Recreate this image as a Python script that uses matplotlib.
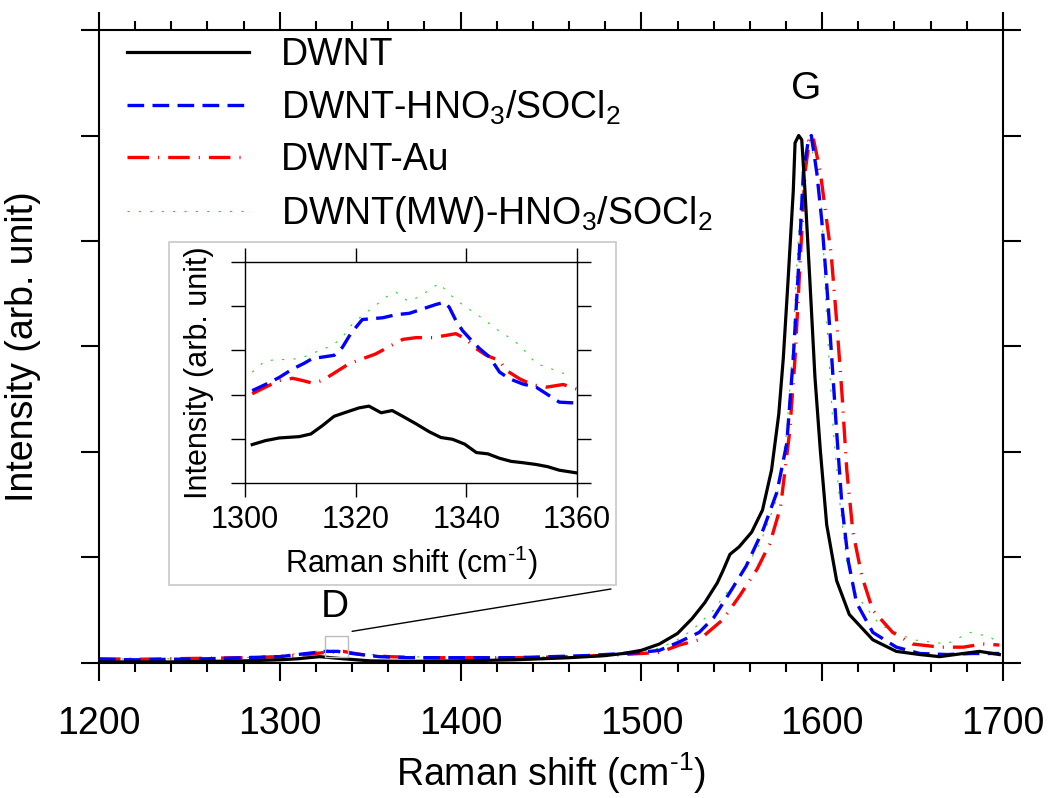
import matplotlib
matplotlib.use('Agg')
import matplotlib.pyplot as plt
from matplotlib.patches import Rectangle, ConnectionPatch

plt.rcParams['font.family'] = ['Liberation Sans', 'DejaVu Sans']
plt.rcParams['mathtext.fontset'] = 'custom'
plt.rcParams['mathtext.rm'] = 'Liberation Sans'
plt.rcParams['mathtext.it'] = 'Liberation Sans:italic'
plt.rcParams['lines.scale_dashes'] = False

# ---- main spectra (normalised, G peak = 5) ----
x_dwnt = [1200, 1220, 1240, 1260, 1280, 1300, 1310, 1322, 1335, 1350, 1370, 1400, 1430,
          1460, 1480, 1490, 1500, 1510, 1520, 1528, 1535, 1542, 1545, 1549, 1554, 1561,
          1567, 1572, 1576, 1578.5, 1581, 1584, 1585, 1587, 1588.7, 1590.5, 1593.3, 1596,
          1599, 1602.5, 1608, 1615, 1628, 1641, 1654, 1665, 1678, 1687, 1698]
y_dwnt = [0.01, 0.01, 0.01, 0.015, 0.02, 0.03, 0.04, 0.06, 0.04, 0.02, 0.015, 0.02, 0.03,
          0.05, 0.07, 0.09, 0.12, 0.18, 0.28, 0.42, 0.57, 0.76, 0.87, 1.03, 1.10, 1.24,
          1.45, 1.83, 2.36, 2.89, 3.59, 4.47, 4.93, 5.0, 4.96, 4.47, 3.59, 2.71,
          2.01, 1.31, 0.78, 0.46, 0.22, 0.11, 0.08, 0.06, 0.09, 0.11, 0.08]

x_hno3 = [1200, 1220, 1240, 1260, 1280, 1300, 1315, 1325, 1332, 1340, 1355, 1370, 1400,
          1430, 1450, 1470, 1490, 1500, 1510, 1521, 1532, 1540, 1549, 1558, 1567.5, 1575,
          1580.4, 1584, 1587, 1589.6, 1592.4, 1594, 1597, 1599.8, 1602.5, 1605.3, 1608,
          1611, 1614.5, 1619, 1628, 1641, 1654, 1669, 1683, 1698]
y_hno3 = [0.035, 0.03, 0.035, 0.04, 0.05, 0.06, 0.09, 0.11, 0.11, 0.09, 0.06, 0.05, 0.05,
          0.05, 0.06, 0.07, 0.09, 0.10, 0.12, 0.20, 0.29, 0.43, 0.67, 0.92, 1.27, 1.62,
          2.08, 2.89, 3.77, 4.65, 4.96, 5.0, 4.65, 4.19, 3.59, 2.89, 2.19,
          1.48, 0.96, 0.57, 0.29, 0.15, 0.09, 0.08, 0.09, 0.09]

x_au = [1200, 1220, 1240, 1260, 1280, 1300, 1315, 1325, 1335, 1345, 1360, 1380, 1400,
        1430, 1450, 1470, 1490, 1500, 1510, 1521, 1532, 1545, 1554.5, 1564, 1571, 1577,
        1582, 1585, 1587.7, 1590.5, 1593.3, 1595, 1599, 1602.5, 1605, 1608, 1611, 1613.6,
        1617, 1622, 1628, 1639, 1650, 1665, 1678, 1689, 1698]
y_au = [0.04, 0.035, 0.04, 0.045, 0.05, 0.06, 0.08, 0.10, 0.11, 0.08, 0.06, 0.05, 0.05,
        0.05, 0.055, 0.065, 0.08, 0.09, 0.10, 0.17, 0.22, 0.41, 0.64, 0.89, 1.13, 1.48,
        2.19, 2.89, 3.77, 4.65, 5.0, 4.98, 4.65, 4.19, 3.87, 3.24, 2.54, 1.83,
        1.24, 0.82, 0.50, 0.29, 0.18, 0.15, 0.15, 0.18, 0.17]

x_mw = [1200, 1220, 1240, 1260, 1280, 1300, 1315, 1325, 1332, 1340, 1355, 1370, 1400,
        1430, 1450, 1470, 1490, 1500, 1510, 1520, 1528.7, 1539.8, 1545, 1554.5, 1565.6,
        1574.8, 1580.4, 1584, 1586, 1587.7, 1590.5, 1592.4, 1596, 1599.8, 1602.5, 1606.2,
        1610, 1613.6, 1619, 1632, 1650, 1669, 1681.6, 1692.7, 1698]
y_mw = [0.04, 0.035, 0.04, 0.045, 0.05, 0.07, 0.10, 0.12, 0.12, 0.10, 0.07, 0.06, 0.05,
        0.05, 0.06, 0.07, 0.09, 0.11, 0.14, 0.22, 0.32, 0.50, 0.62, 0.82, 1.13,
        1.55, 2.19, 3.06, 3.77, 4.29, 4.82, 5.0, 4.75, 4.29, 3.24, 2.19,
        1.48, 0.96, 0.64, 0.36, 0.22, 0.18, 0.29, 0.25, 0.18]

# ---- inset: D band 1300-1360 ----
xi_dwnt = [1301.3, 1303.7, 1306.2, 1309.8, 1311.9, 1314, 1316.1, 1318.2, 1320.6, 1322.4,
           1324.6, 1326.6, 1328.5, 1330.9, 1333.3, 1335.4, 1337.5, 1339.7, 1341.8, 1343.9,
           1346, 1348.1, 1350.2, 1352.6, 1354.7, 1356.8, 1359.9]
yi_dwnt = [0.87, 0.96, 1.02, 1.05, 1.11, 1.30, 1.51, 1.60, 1.70, 1.74,
           1.59, 1.64, 1.51, 1.34, 1.16, 1.03, 0.99, 0.88, 0.69, 0.66,
           0.56, 0.49, 0.46, 0.42, 0.37, 0.29, 0.23]

xi_hno3 = [1301.3, 1303.7, 1306.2, 1308.6, 1310.7, 1312.2, 1314, 1316.1, 1317.6, 1319.1,
           1321.2, 1324.9, 1327.3, 1329.7, 1332.1, 1334.5, 1336, 1336.9, 1338.1, 1339.3,
           1340.9, 1342.4, 1344.2, 1346, 1347.8, 1350.2, 1352.6, 1354.7, 1356.8, 1359.9]
yi_hno3 = [2.09, 2.23, 2.39, 2.58, 2.71, 2.82, 2.85, 2.89, 3.07, 3.38,
           3.70, 3.74, 3.81, 3.84, 3.94, 4.04, 4.09, 3.98, 3.68, 3.45,
           3.23, 3.04, 2.85, 2.51, 2.36, 2.24, 2.17, 2.00, 1.83, 1.81]

xi_au = [1301.3, 1303.7, 1306.2, 1308.6, 1310.4, 1312.2, 1314, 1316.4, 1318.8, 1321.2,
         1323.6, 1326.1, 1328.5, 1330.9, 1333.9, 1336.3, 1338.1, 1339.9, 1341.8, 1343.6,
         1346, 1347.2, 1349.6, 1352, 1354.5, 1357.5, 1359.9]
yi_au = [2.02, 2.17, 2.32, 2.37, 2.32, 2.26, 2.32, 2.51, 2.70, 2.81,
         2.92, 3.09, 3.25, 3.29, 3.29, 3.34, 3.38, 3.26, 3.04, 2.89,
         2.77, 2.55, 2.36, 2.22, 2.17, 2.23, 2.13]

xi_mw = [1301.3, 1303.7, 1306.2, 1309.2, 1311.6, 1313.4, 1315.8, 1317.6, 1319.4, 1321.2,
         1323.6, 1325.5, 1327.3, 1329.4, 1331.5, 1333.3, 1335.1, 1336.9, 1338.7, 1340.9,
         1343, 1345.1, 1347.2, 1349.3, 1351.1, 1352.6, 1354.7, 1356.8, 1358.9]
yi_mw = [2.51, 2.77, 2.79, 2.81, 2.89, 3.00, 3.11, 3.30, 3.60, 3.79,
         4.02, 4.21, 4.32, 4.12, 4.21, 4.37, 4.52, 4.28, 4.09, 3.90,
         3.72, 3.51, 3.34, 3.15, 2.92, 2.70, 2.62, 2.51, 2.43]

labels = ['DWNT', 'DWNT-HNO$_3$/SOCl$_2$', 'DWNT-Au', 'DWNT(MW)-HNO$_3$/SOCl$_2$']
xlab = r'Raman shift (cm$^{\text{-1}}$)'
ylab = 'Intensity (arb. unit)'

# styles
st_dwnt = dict(color='black', lw=2.3, linestyle='-')
st_hno3 = dict(color='#0000ff', lw=2.4, linestyle=(0, (12, 6)))
st_au = dict(color='#ff0000', lw=2.4, linestyle=(0, (15.5, 6.5, 0.8, 6.5)))
st_mw = dict(color='#33cc33', lw=0.8, linestyle=(0, (1.6, 6.6)))

fig = plt.figure(figsize=(10.52, 7.98), dpi=100)
ax = fig.add_axes([0.0941, 0.1692, 0.8593, 0.7932])

ax.plot(x_mw, y_mw, label=labels[3], **st_mw)
ax.plot(x_au, y_au, label=labels[2], **st_au)
ax.plot(x_hno3, y_hno3, label=labels[1], **st_hno3)
ax.plot(x_dwnt, y_dwnt, label=labels[0], **st_dwnt)

ax.set_xlim(1200, 1700)
ax.set_ylim(0, 6)
ax.set_xticks(range(1200, 1701, 100))
ax.set_xticks(range(1200, 1701, 20), minor=True)
ax.set_yticks(range(0, 7))
ax.set_yticklabels([])
ax.tick_params(which='both', direction='out', top=True, right=True, width=1.5)
ax.tick_params(which='major', length=13, labelsize=27, pad=18)
ax.tick_params(which='minor', length=6.5)
for s in ax.spines.values():
    s.set_linewidth(1.5)
ax.set_xlabel(xlab, fontsize=27, labelpad=6)
ax.set_ylabel(ylab, fontsize=27, labelpad=11)

h, l = ax.get_legend_handles_labels()
ax.legend(h[::-1], l[::-1], loc='upper left', bbox_to_anchor=(0.006, 1.025), frameon=False,
          fontsize=27, handlelength=3.25, handletextpad=0.85, labelspacing=0.42,
          borderaxespad=0.2)

ax.text(1591, 5.44, 'G', fontsize=28, ha='center', va='center')
ax.text(1330.5, 0.53, 'D', fontsize=28, ha='center', va='center')

# small box around D band and the connecting line
ax.add_patch(Rectangle((1325, 0.06), 13, 0.2, fill=False, edgecolor='#bbbbbb', lw=1, zorder=6))
con = ConnectionPatch(xyA=(1340, 0.30), coordsA=ax.transData,
                      xyB=(611 / 1052, 1 - 589 / 798), coordsB=fig.transFigure,
                      color='black', lw=1)
fig.add_artist(con)

# white panel behind the inset
fig.add_artist(Rectangle((169 / 1052, 1 - 585 / 798), 447 / 1052, 343 / 798,
                         transform=fig.transFigure, facecolor='white',
                         edgecolor='#c8c8c8', lw=1.2, zorder=3))

ins = fig.add_axes([0.2329, 0.3947, 0.3156, 0.2769])
ins.set_zorder(5)
ins.plot(xi_mw, yi_mw, **st_mw)
ins.plot(xi_au, yi_au, **st_au)
ins.plot(xi_hno3, yi_hno3, **st_hno3)
ins.plot(xi_dwnt, yi_dwnt, **st_dwnt)
ins.set_xlim(1300, 1360)
ins.set_ylim(0, 5)
ins.set_xticks([1300, 1320, 1340, 1360])
ins.set_yticks(range(0, 6))
ins.set_yticklabels([])
ins.tick_params(direction='out', top=True, right=True, length=10, width=1,
                labelsize=22, pad=6)
for s in ins.spines.values():
    s.set_linewidth(1)
ins.set_xlabel(xlab, fontsize=22, labelpad=6)
ins.set_ylabel(ylab, fontsize=22, labelpad=6)

fig.savefig('out.png', dpi=100)
